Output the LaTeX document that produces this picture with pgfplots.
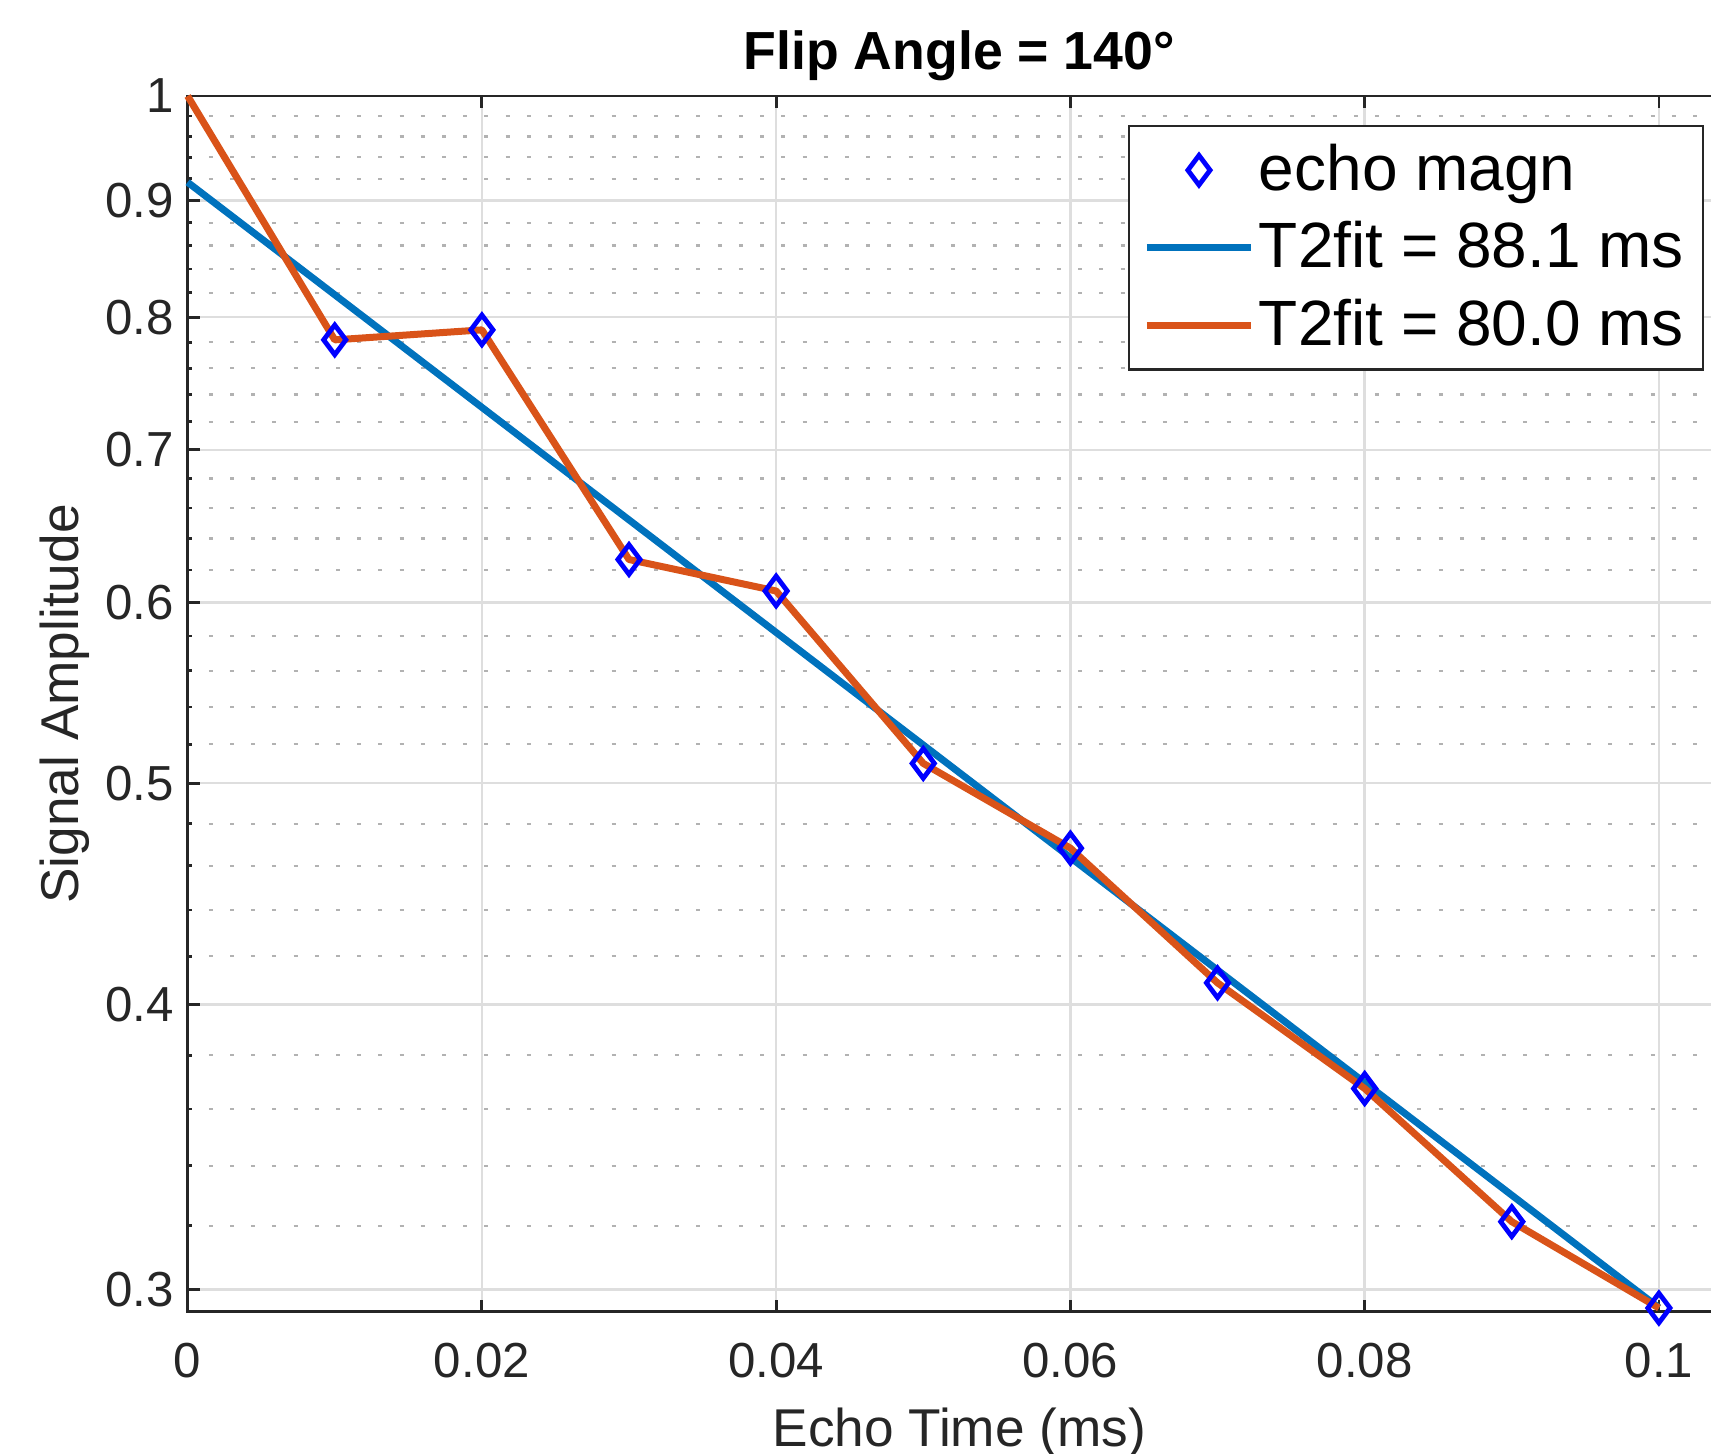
\documentclass[border=0pt]{standalone}
\usepackage{fontspec}
\setmainfont{Liberation Sans}
\usepackage{pgfplots}
\pgfplotsset{compat=1.18}
\definecolor{mblue}{rgb}{0,0.447,0.741}
\definecolor{morange}{rgb}{0.85,0.325,0.098}
\definecolor{axgray}{rgb}{0.15,0.15,0.15}
\definecolor{majgrid}{rgb}{0.87,0.87,0.87}
\definecolor{mingrid}{rgb}{0.70,0.70,0.70}
\begin{document}
\begin{tikzpicture}
\begin{axis}[
  name=ax,
  scale only axis,
  width=385.8pt, height=303.9pt,
  xmin=0, xmax=0.1049,
  ymode=log, ymin=0.2934, ymax=1,
  clip=false,
  xtick={0,0.02,0.04,0.06,0.08,0.1},
  xticklabels={0,0.02,0.04,0.06,0.08,0.1},
  ytick={0.3,0.4,0.5,0.6,0.7,0.8,0.9,1},
  yticklabels={0.3,0.4,0.5,0.6,0.7,0.8,0.9,1},
  minor ytick={0.32,0.34,0.36,0.38,0.42,0.44,0.46,0.48,0.52,0.54,0.56,0.58,0.62,0.64,0.66,0.68,0.72,0.74,0.76,0.78,0.82,0.84,0.86,0.88,0.92,0.94,0.96,0.98},
  ytick pos=left,
  xtick pos=both,
  tick align=inside,
  major tick length=3pt,
  minor tick length=1.2pt,
  xmajorgrids, ymajorgrids, yminorgrids,
  major grid style={majgrid, line width=0.6pt},
  minor grid style={mingrid, dash pattern=on 1pt off 4.3pt, line width=0.55pt},
  axis line style={axgray, line width=0.7pt},
  tick style={axgray, line width=0.7pt},
  /pgf/number format/assume math mode=true,
  tick label style={font=\fontsize{12.3}{14}\selectfont, text=axgray},
  xticklabel style={anchor=base, yshift=-16.4pt},
  title={\bfseries Flip Angle = 140°},
  title style={at={(axis description cs:0.5,1)}, anchor=base, yshift=0.5pt, font=\fontsize{13.4}{16}\selectfont},
  xlabel={Echo Time (ms)},
  xlabel style={at={(axis description cs:0.5,-0.1106)}, anchor=base, font=\fontsize{13.3}{16}\selectfont, text=axgray},
  ylabel={Signal Amplitude},
  ylabel style={at={(axis description cs:-0.0708,0.5)}, anchor=base, font=\fontsize{13.3}{16}\selectfont, text=axgray},
  legend image code/.code={\draw[mark repeat=2,mark phase=2,#1] plot coordinates {(0pt,0pt) (13pt,0pt) (26pt,0pt)};},
  legend style={at={(axis description cs:1,1)}, anchor=north east, xshift=-6.75pt, yshift=-7.25pt,
    font=\fontsize{16}{19}\selectfont, draw=axgray, line width=0.6pt, fill=white,
    inner xsep=3.6pt, inner ysep=3.35pt, nodes={inner sep=1.1pt, text depth=0.15em},
    row sep=4.1pt, cells={anchor=west}},
]
\addplot[only marks, mark=diamond, mark size=3.7pt, color=blue, mark options={line width=1.2pt, fill=none}]
  coordinates {(0.01,0.782) (0.02,0.790) (0.03,0.6266) (0.04,0.607) (0.05,0.5101) (0.06,0.4683) (0.07,0.4088) (0.08,0.3675) (0.09,0.3213) (0.1,0.2945)};
\addlegendentry{echo magn}
\addplot[mblue, line width=1.75pt, no marks]
  coordinates {(0,0.9167) (0.1,0.2946)};
\addlegendentry{T2fit = 88.1 ms}
\addplot[morange, line width=1.75pt, no marks, line join=round]
  coordinates {(0,1.0) (0.01,0.782) (0.02,0.790) (0.03,0.6266) (0.04,0.607) (0.05,0.5101) (0.06,0.4683) (0.07,0.4088) (0.08,0.3675) (0.09,0.3213) (0.1,0.2945)};
\addlegendentry{T2fit = 80.0 ms}
\end{axis}
\pgfresetboundingbox
\path[use as bounding box] ([shift={(-46.9pt,-35.35pt)}]ax.south west) rectangle ([shift={(380.8pt,327.9pt)}]ax.south west);
\end{tikzpicture}
\end{document}
